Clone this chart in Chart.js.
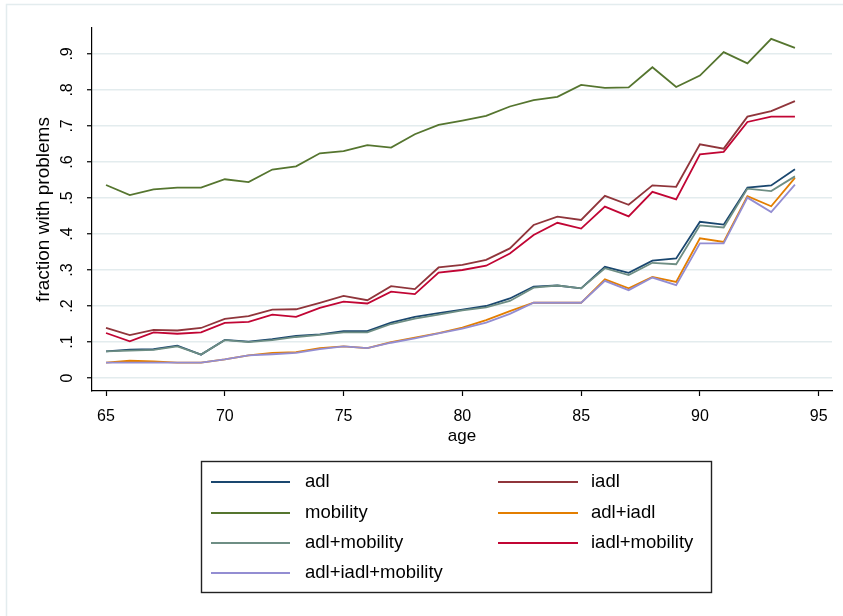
<!DOCTYPE html>
<html>
<head>
<meta charset="utf-8">
<script src="https://cdn.jsdelivr.net/npm/chart.js@4/dist/chart.umd.min.js"></script>
<style>
html,body{margin:0;padding:0;background:#fff;}
#wrap{position:relative;width:843px;height:616px;}
</style>
</head>
<body>
<div id="wrap"><canvas id="c" width="843" height="616"></canvas></div>
<script>
// ---- data ----
const ages = [65,66,67,68,69,70,71,72,73,74,75,76,77,78,79,80,81,82,83,84,85,86,87,88,89,90,91,92,93,94];

const adl =            [0.074,0.079,0.080,0.090,0.065,0.106,0.101,0.108,0.117,0.121,0.130,0.130,0.154,0.170,0.180,0.190,0.200,0.221,0.254,0.257,0.249,0.309,0.292,0.326,0.332,0.434,0.426,0.529,0.535,0.580];
const iadl =           [0.139,0.119,0.134,0.132,0.139,0.164,0.172,0.190,0.191,0.209,0.228,0.216,0.255,0.247,0.307,0.314,0.328,0.360,0.425,0.448,0.439,0.506,0.481,0.535,0.531,0.649,0.637,0.726,0.741,0.769];
const mobility =       [0.536,0.508,0.524,0.529,0.529,0.552,0.544,0.579,0.588,0.624,0.630,0.647,0.640,0.677,0.703,0.715,0.728,0.754,0.772,0.781,0.814,0.806,0.807,0.863,0.808,0.840,0.905,0.874,0.942,0.917];
const adlIadl =        [0.043,0.048,0.046,0.043,0.043,0.052,0.063,0.070,0.072,0.083,0.088,0.083,0.100,0.112,0.125,0.140,0.161,0.186,0.209,0.209,0.209,0.274,0.249,0.281,0.267,0.388,0.378,0.505,0.477,0.556];
const adlMobility =    [0.074,0.076,0.078,0.088,0.065,0.105,0.100,0.105,0.114,0.120,0.127,0.127,0.150,0.165,0.176,0.188,0.196,0.214,0.251,0.257,0.249,0.305,0.286,0.320,0.316,0.424,0.418,0.526,0.519,0.560];
const iadlMobility =   [0.125,0.102,0.127,0.123,0.127,0.153,0.156,0.176,0.170,0.195,0.212,0.207,0.240,0.233,0.293,0.300,0.312,0.346,0.397,0.431,0.415,0.476,0.449,0.517,0.496,0.621,0.628,0.711,0.726,0.726];
const adlIadlMobility =[0.043,0.043,0.043,0.043,0.043,0.052,0.063,0.066,0.070,0.080,0.088,0.083,0.098,0.110,0.124,0.137,0.154,0.178,0.209,0.209,0.209,0.270,0.244,0.279,0.258,0.374,0.374,0.501,0.461,0.537];

const seriesNames = ['adl','iadl','mobility','adl+iadl','adl+mobility','iadl+mobility','adl+iadl+mobility'];
const seriesValues = [adl, iadl, mobility, adlIadl, adlMobility, iadlMobility, adlIadlMobility];
const seriesColors = ['#1a476f','#90353b','#55752f','#e37e00','#6e8e84','#c10534','#938dd2'];

const yTicks = [0,0.1,0.2,0.3,0.4,0.5,0.6,0.7,0.8,0.9];
const yTickLabels = ['0','.1','.2','.3','.4','.5','.6','.7','.8','.9'];
const xTicks = [65,70,75,80,85,90,95];
const xTickLabels = ['65','70','75','80','85','90','95'];

const FONT = '"Liberation Sans", Arial, Helvetica, sans-serif';

const datasets = seriesNames.map((name, i) => ({
  label: name,
  data: ages.map((a, k) => ({x: a, y: seriesValues[i][k]})),
  borderColor: seriesColors[i],
  backgroundColor: seriesColors[i],
  borderWidth: 1.8,
  pointRadius: 0,
  tension: 0,
  fill: false,
  order: seriesNames.length - 1 - i
}));

const frameAndLegend = {
  id: 'frameAndLegend',
  beforeDraw(chart) {
    const ctx = chart.ctx;
    ctx.save();
    ctx.fillStyle = '#ffffff';
    ctx.fillRect(0, 0, chart.width, chart.height);
    ctx.strokeStyle = '#e3ecee';
    ctx.lineWidth = 1.5;
    ctx.strokeRect(6.5, 4.5, chart.width, chart.height);
    ctx.restore();
  },
  afterDraw(chart) {
    const ctx = chart.ctx;
    ctx.save();
    // legend box
    const bx = 201.5, by = 461.5, bw = 510, bh = 131;
    ctx.strokeStyle = '#222';
    ctx.lineWidth = 1.4;
    ctx.strokeRect(bx, by, bw, bh);
    const rows = [482, 513, 543, 573];
    const cols = [{l0: 211, l1: 290, t: 305}, {l0: 498, l1: 578, t: 591}];
    ctx.font = '18.5px ' + FONT;
    ctx.textBaseline = 'middle';
    ctx.textAlign = 'left';
    chart.data.datasets.forEach((ds, i) => {
      const r = Math.floor(i / 2), c = i % 2;
      const y = rows[r];
      ctx.strokeStyle = ds.borderColor;
      ctx.lineWidth = 2;
      ctx.beginPath();
      ctx.moveTo(cols[c].l0, y);
      ctx.lineTo(cols[c].l1, y);
      ctx.stroke();
      ctx.fillStyle = '#000';
      ctx.fillText(ds.label, cols[c].t, y);
    });
    ctx.restore();
  }
};

new Chart(document.getElementById('c'), {
  type: 'line',
  data: { datasets },
  plugins: [frameAndLegend],
  options: {
    responsive: false,
    animation: false,
    devicePixelRatio: 1,
    layout: { padding: { left: 0, top: 28, right: 11, bottom: 165 } },
    plugins: { legend: { display: false }, tooltip: { enabled: false } },
    scales: {
      x: {
        type: 'linear',
        min: 64.41,
        max: 95.56,
        afterBuildTicks: s => { s.ticks = xTicks.map(v => ({value: v})); },
        afterFit: s => { s.height = 60; },
        ticks: {
          autoSkip: false, maxRotation: 0, minRotation: 0, padding: 11,
          color: '#000', font: { family: FONT, size: 16 },
          callback: (v, i) => xTickLabels[i]
        },
        grid: { drawOnChartArea: false, drawTicks: true, tickLength: 5, tickColor: '#000', tickWidth: 1.2 },
        border: { display: true, color: '#000', width: 1.2 },
        title: { display: true, text: 'age', color: '#000', font: { family: FONT, size: 17 }, padding: { top: 0, bottom: 4 } }
      },
      y: {
        type: 'linear',
        min: -0.036,
        max: 0.972,
        afterBuildTicks: s => { s.ticks = yTicks.map(v => ({value: v})); },
        afterFit: s => { s.width = 92; },
        ticks: {
          autoSkip: false, minRotation: 90, maxRotation: 90, crossAlign: 'center', padding: 13,
          color: '#000', font: { family: FONT, size: 16 },
          callback: (v, i) => yTickLabels[i]
        },
        grid: { color: '#e3ecee', lineWidth: 1.5, drawTicks: true, tickLength: 5, tickColor: '#000', tickWidth: 1.2 },
        border: { display: true, color: '#000', width: 1.2 },
        title: { display: true, text: 'fraction with problems', color: '#000', font: { family: FONT, size: 19 }, padding: { top: 32, bottom: 0 } }
      }
    }
  }
});
</script>
</body>
</html>
